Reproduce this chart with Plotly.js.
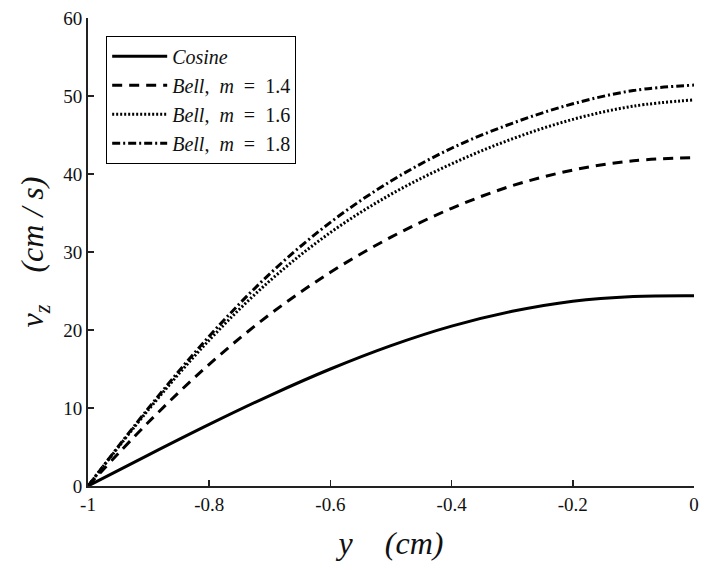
<!DOCTYPE html>
<html>
<head>
<meta charset="utf-8">
<script src="https://cdn.plot.ly/plotly-3.0.1.min.js"></script>
<style>html,body{margin:0;padding:0;background:#fff;}#chart{width:705px;height:572px;}</style>
</head>
<body>
<div id="chart"></div>
<script>
const yPos = [-1, -0.9, -0.8, -0.7, -0.6, -0.5, -0.4, -0.3, -0.2, -0.1, 0];
const cosine = [0, 4.0, 7.9, 11.6, 15.0, 18.0, 20.5, 22.4, 23.7, 24.3, 24.4];
const bell14 = [0, 8.2, 15.6, 22.0, 27.4, 31.9, 35.6, 38.5, 40.5, 41.7, 42.1];
const bell16 = [0, 9.8, 18.7, 26.3, 32.5, 37.4, 41.3, 44.5, 47.0, 48.7, 49.5];
const bell18 = [0, 10.0, 19.2, 27.2, 33.8, 39.1, 43.3, 46.5, 49.0, 50.7, 51.4];
const names = ['<i>Cosine</i>',
  '<i>Bell</i>,&nbsp;&nbsp;<i>m</i>&nbsp;&nbsp;=&nbsp;&nbsp;1.4',
  '<i>Bell</i>,&nbsp;&nbsp;<i>m</i>&nbsp;&nbsp;=&nbsp;&nbsp;1.6',
  '<i>Bell</i>,&nbsp;&nbsp;<i>m</i>&nbsp;&nbsp;=&nbsp;&nbsp;1.8'];
const xTicks = [-1, -0.8, -0.6, -0.4, -0.2, 0];
const xTickText = ['-1', '-0.8', '-0.6', '-0.4', '-0.2', '0'];
const yTicks = [0, 10, 20, 30, 40, 50, 60];

const series = [cosine, bell14, bell16, bell18];
const dashes = ['solid', '10px,7px', '2px,2px', '8px,3px,2px,3px'];
const traces = series.map((s, i) => ({
  x: yPos, y: s, name: names[i], type: 'scatter', mode: 'lines',
  line: {color: '#000', width: 3, dash: dashes[i], shape: 'spline', smoothing: 1}
}));

const font = {family: 'Liberation Serif, DejaVu Serif, serif', color: '#111'};
const layout = {
  width: 705, height: 572,
  margin: {l: 88, r: 11, t: 18, b: 86},
  paper_bgcolor: '#fff', plot_bgcolor: '#fff',
  font: Object.assign({size: 19}, font),
  showlegend: true,
  legend: {
    x: 0.03, y: 0.962, xanchor: 'left', yanchor: 'top',
    bordercolor: '#000', borderwidth: 1, bgcolor: '#fff',
    font: Object.assign({size: 20}, font),
    itemwidth: 55, tracegroupgap: 0
  },
  xaxis: {
    range: [-1, 0], tickvals: xTicks, ticktext: xTickText,
    ticks: 'inside', ticklen: 6, tickwidth: 1.5, tickcolor: '#222',
    showline: true, linecolor: '#222', linewidth: 2, mirror: false,
    showgrid: false, zeroline: false,
    tickfont: Object.assign({size: 19}, font),
    title: {text: '<i>y</i>    <i>(cm)</i>', font: Object.assign({size: 32}, font), standoff: 18}
  },
  yaxis: {
    range: [0, 60], tickvals: yTicks,
    ticks: 'inside', ticklen: 6, tickwidth: 1.5, tickcolor: '#222',
    showline: true, linecolor: '#222', linewidth: 2, mirror: false,
    showgrid: false, zeroline: false,
    tickfont: Object.assign({size: 19}, font),
    title: {text: '<i>v<sub>z</sub></i>    <i>(cm / s)</i>', font: Object.assign({size: 32}, font), standoff: 10}
  }
};
Plotly.newPlot('chart', traces, layout, {staticPlot: true, displayModeBar: false}).then(gd => {
  // lengthen legend line samples to match the reference
  gd.querySelectorAll('.legend .traces path.js-line').forEach(p => p.setAttribute('d', 'M5,0h55'));
});
</script>
</body>
</html>
